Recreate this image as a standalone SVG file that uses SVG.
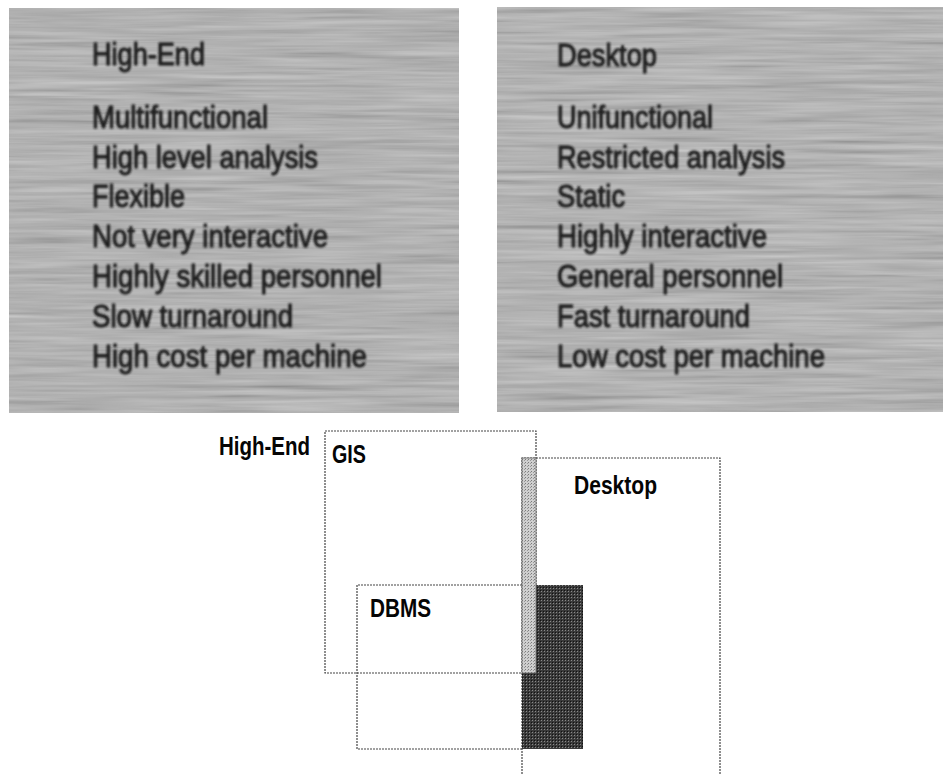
<svg xmlns="http://www.w3.org/2000/svg" width="943" height="774" viewBox="0 0 943 774">
<style>
.ptext{font-family:"Liberation Sans",Arial,sans-serif;font-size:31px;fill:#1e1e1e;stroke:#1e1e1e;stroke-width:1.1;}
.blab{font-family:"Liberation Sans",Arial,sans-serif;font-size:25px;font-weight:bold;fill:#050505;}
.edge{fill:none;stroke:#444;stroke-width:1.2;stroke-dasharray:2 1;}
</style>
<defs>
<filter id="streak" x="0" y="0" width="1" height="1">
<feTurbulence type="fractalNoise" baseFrequency="0.008 0.2" numOctaves="3" seed="4" result="n"/>
<feColorMatrix in="n" type="matrix" values="0.33 0.33 0.33 0 0 0.33 0.33 0.33 0 0 0.33 0.33 0.33 0 0 0 0 0 0 0.5"/>
</filter>
<filter id="soft"><feGaussianBlur stdDeviation="0.9"/></filter>
<pattern id="lightDots" width="3" height="3" patternUnits="userSpaceOnUse">
<rect width="3" height="3" fill="#cfcfcf"/>
<rect x="0" y="0" width="1" height="1" fill="#7a7a7a"/>
<rect x="2" y="1" width="1" height="1" fill="#999"/>
</pattern>
<pattern id="darkDots" width="3" height="3" patternUnits="userSpaceOnUse">
<rect width="3" height="3" fill="#3a3a3a"/>
<rect x="1" y="0" width="1" height="1" fill="#8a8a8a"/>
<rect x="0" y="2" width="1" height="1" fill="#111"/>
</pattern>
</defs>
<rect width="943" height="774" fill="#ffffff"/>

<g id="panel-highend">
<rect x="9" y="8" width="450" height="405" fill="#a8a8a8"/>
<rect x="9" y="8" width="450" height="405" filter="url(#streak)"/>
<g filter="url(#soft)">
<text class="ptext" x="92" y="65" textLength="113" lengthAdjust="spacingAndGlyphs">High-End</text>
<text class="ptext" x="92" y="128" textLength="176" lengthAdjust="spacingAndGlyphs">Multifunctional</text>
<text class="ptext" x="92" y="168" textLength="226" lengthAdjust="spacingAndGlyphs">High level analysis</text>
<text class="ptext" x="92" y="207" textLength="93" lengthAdjust="spacingAndGlyphs">Flexible</text>
<text class="ptext" x="92" y="247" textLength="236" lengthAdjust="spacingAndGlyphs">Not very interactive</text>
<text class="ptext" x="92" y="287" textLength="290" lengthAdjust="spacingAndGlyphs">Highly skilled personnel</text>
<text class="ptext" x="92" y="327" textLength="201" lengthAdjust="spacingAndGlyphs">Slow turnaround</text>
<text class="ptext" x="92" y="367" textLength="275" lengthAdjust="spacingAndGlyphs">High cost per machine</text>
</g>
</g>

<g id="panel-desktop">
<rect x="497" y="7" width="446" height="405" fill="#aaaaaa"/>
<rect x="497" y="7" width="446" height="405" filter="url(#streak)"/>
<g filter="url(#soft)">
<text class="ptext" x="557" y="66" textLength="100" lengthAdjust="spacingAndGlyphs">Desktop</text>
<text class="ptext" x="557" y="128" textLength="156" lengthAdjust="spacingAndGlyphs">Unifunctional</text>
<text class="ptext" x="557" y="168" textLength="228" lengthAdjust="spacingAndGlyphs">Restricted analysis</text>
<text class="ptext" x="557" y="207" textLength="68" lengthAdjust="spacingAndGlyphs">Static</text>
<text class="ptext" x="557" y="247" textLength="210" lengthAdjust="spacingAndGlyphs">Highly interactive</text>
<text class="ptext" x="557" y="287" textLength="226" lengthAdjust="spacingAndGlyphs">General personnel</text>
<text class="ptext" x="557" y="327" textLength="193" lengthAdjust="spacingAndGlyphs">Fast turnaround</text>
<text class="ptext" x="557" y="367" textLength="268" lengthAdjust="spacingAndGlyphs">Low cost per machine</text>
</g>
</g>

<g id="label-highend">
<text class="blab" x="219" y="455" textLength="91" lengthAdjust="spacingAndGlyphs">High-End</text>
</g>

<g id="rect-gis">
<rect class="edge" x="325" y="431" width="211" height="242"/>
<text class="blab" x="332" y="463" textLength="34" lengthAdjust="spacingAndGlyphs">GIS</text>
</g>

<g id="rect-desktop">
<path class="edge" d="M522 774 V458 H720 V774"/>
<text class="blab" x="574" y="494" font-size="27" textLength="83" lengthAdjust="spacingAndGlyphs">Desktop</text>
</g>

<g id="rect-dbms">
<path class="edge" d="M522 585 H357 V749 H522"/>
<text class="blab" x="370" y="617" textLength="61" lengthAdjust="spacingAndGlyphs">DBMS</text>
</g>

<g id="overlaps">
<rect x="522" y="585" width="61" height="164" fill="url(#darkDots)"/>
<rect x="522" y="458" width="14" height="215" fill="url(#lightDots)" stroke="#666" stroke-width="0.8"/>
</g>
</svg>
